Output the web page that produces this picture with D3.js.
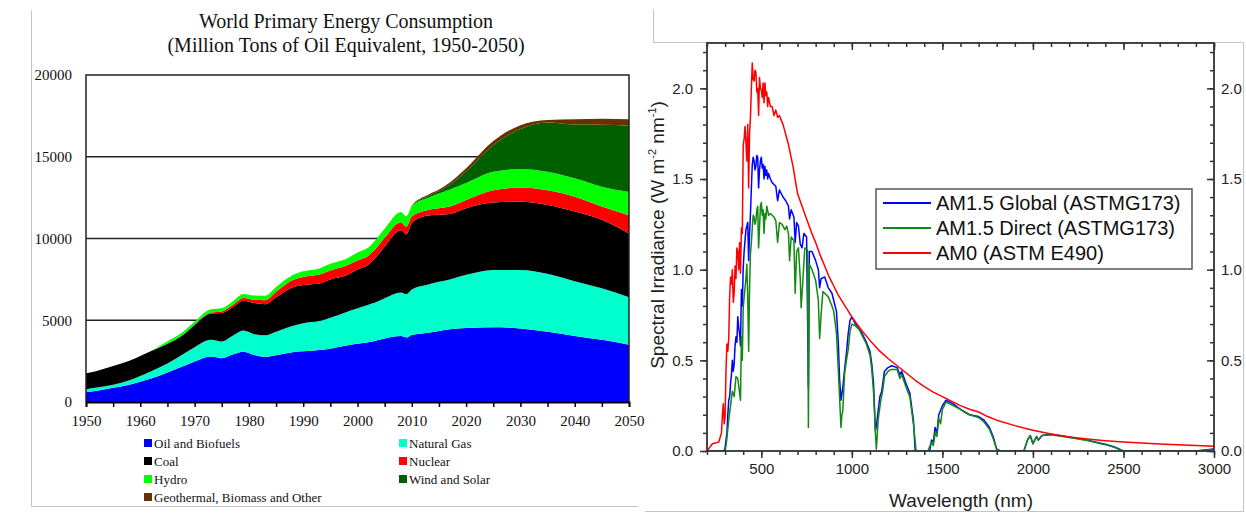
<!DOCTYPE html>
<html>
<head>
<meta charset="utf-8">
<script src="https://cdn.jsdelivr.net/npm/d3@7"></script>
<style>
  body { margin: 0; background: #fff; }
  .serif { font-family: "Liberation Serif", "Times New Roman", serif; }
  .sans { font-family: "Liberation Sans", Arial, sans-serif; }
</style>
</head>
<body>
<svg id="chart" width="1246" height="516"></svg>
<script>
// ---- left panel: world primary energy, Mtoe
const energyYears = [1950, 1952, 1955, 1958, 1960, 1962, 1965, 1968, 1970, 1973, 1975, 1977, 1979, 1981, 1983, 1985, 1988, 1990, 1993, 1995, 1998, 2000, 2002, 2003, 2005, 2008, 2009, 2010, 2013, 2015, 2017, 2020, 2025, 2030, 2035, 2040, 2045, 2050];
const oilBio    = [600, 690, 870, 1060, 1240, 1430, 1800, 2200, 2470, 2780, 2680, 2900, 3080, 2880, 2760, 2860, 3050, 3100, 3180, 3260, 3450, 3560, 3650, 3720, 3880, 4030, 3950, 4100, 4240, 4350, 4450, 4520, 4570, 4500, 4300, 4040, 3800, 3500];
const natGas    = [180, 190, 180, 270, 350, 450, 560, 750, 880, 1020, 1020, 1150, 1290, 1270, 1320, 1440, 1600, 1720, 1770, 1890, 2050, 2170, 2300, 2330, 2470, 2670, 2650, 2780, 2940, 3000, 3050, 3260, 3510, 3580, 3540, 3340, 3150, 2900];
const coal      = [980, 1020, 1150, 1200, 1230, 1240, 1200, 1180, 1360, 1620, 1750, 1750, 1830, 1900, 1900, 2100, 2350, 2330, 2300, 2350, 2250, 2370, 2450, 2650, 3150, 3800, 3650, 4070, 4220, 4100, 4000, 4070, 4120, 4170, 4210, 4270, 4200, 3900];
const nuclear   = [0, 0, 0, 0, 0, 0, 10, 20, 30, 50, 90, 130, 160, 200, 250, 350, 450, 500, 550, 550, 600, 550, 550, 550, 550, 500, 480, 400, 350, 400, 450, 500, 750, 870, 900, 910, 810, 1120];
const hydro     = [0, 0, 0, 0, 0, 0, 140, 180, 180, 210, 200, 220, 250, 270, 270, 280, 300, 350, 370, 400, 410, 500, 500, 530, 550, 620, 620, 620, 750, 900, 1050, 1050, 1130, 1130, 1130, 1120, 1210, 1430];
const windSolar = [0, 0, 0, 0, 0, 0, 0, 0, 0, 0, 0, 0, 0, 0, 0, 0, 0, 0, 0, 0, 0, 0, 0, 0, 0, 0, 0, 20, 100, 150, 300, 700, 1620, 2450, 3020, 3290, 3790, 4050];
const otherRen  = [0, 0, 0, 0, 0, 0, 0, 0, 0, 0, 0, 0, 0, 0, 0, 0, 0, 0, 0, 0, 0, 0, 0, 0, 0, 0, 0, 20, 80, 100, 130, 200, 260, 230, 150, 330, 370, 400];

const energyKeys   = ["Oil and Biofuels", "Natural Gas", "Coal", "Nuclear", "Hydro", "Wind and Solar", "Geothermal, Biomass and Other"];
const energyColors = ["#0000ff", "#00ffcc", "#000000", "#ff0000", "#00ff00", "#006000", "#663300"];
const energySeries = [oilBio, natGas, coal, nuclear, hydro, windSolar, otherRen];
const energyTicksY = [0, 5000, 10000, 15000, 20000];

// ---- right panel: solar spectra, W m-2 nm-1 vs nm
const am15Global = [[200,0],[295,0],[300,0.02],[305,0.06],[310,0.1],[315,0.2],[320,0.28],[325,0.3],[330,0.37],[335,0.42],[340,0.5],[345,0.44],[350,0.48],[355,0.58],[360,0.63],[365,0.6],[370,0.74],[375,0.68],[380,0.65],[385,0.58],[390,0.89],[395,0.8],[400,1.01],[405,1.1],[410,1.16],[415,1.22],[420,1.24],[425,1.26],[430,1.05],[435,1.2],[440,1.31],[445,1.45],[450,1.58],[455,1.62],[460,1.6],[465,1.55],[470,1.57],[475,1.63],[480,1.62],[485,1.45],[490,1.55],[495,1.6],[500,1.62],[505,1.56],[510,1.58],[515,1.5],[520,1.57],[525,1.52],[530,1.55],[535,1.5],[540,1.53],[550,1.5],[560,1.48],[570,1.47],[580,1.46],[590,1.38],[600,1.44],[610,1.42],[620,1.4],[635,1.38],[650,1.35],[656,1.28],[665,1.33],[680,1.29],[687,1.15],[695,1.26],[705,1.24],[715,1.14],[725,1.12],[735,1.2],[750,1.18],[760,0.35],[765,1.1],[780,1.1],[800,1.05],[815,1.0],[822,0.9],[830,0.95],[850,0.96],[870,0.9],[890,0.87],[900,0.83],[915,0.77],[925,0.6],[932,0.4],[940,0.28],[950,0.35],[960,0.45],[970,0.54],[980,0.65],[990,0.72],[1000,0.74],[1020,0.7],[1040,0.68],[1060,0.64],[1080,0.6],[1100,0.55],[1110,0.48],[1120,0.37],[1130,0.11],[1137,0.15],[1145,0.22],[1155,0.3],[1165,0.33],[1180,0.44],[1200,0.46],[1220,0.47],[1250,0.46],[1265,0.42],[1275,0.44],[1300,0.37],[1320,0.32],[1340,0.17],[1350,0],[1430,0],[1440,0.06],[1450,0.05],[1460,0.13],[1470,0.1],[1480,0.2],[1500,0.25],[1520,0.28],[1540,0.27],[1560,0.26],[1600,0.23],[1650,0.2],[1700,0.19],[1730,0.17],[1760,0.13],[1780,0.08],[1800,0.01],[1820,0],[1950,0],[1970,0.06],[1985,0.085],[2000,0.04],[2020,0.08],[2030,0.06],[2050,0.085],[2100,0.092],[2200,0.077],[2300,0.06],[2400,0.037],[2450,0.022],[2500,0],[2900,0],[2950,0.005],[3000,0.011]];
const am15Direct = [[200,0],[300,0],[305,0.03],[310,0.07],[315,0.12],[320,0.17],[330,0.25],[340,0.33],[350,0.3],[360,0.41],[370,0.4],[380,0.32],[385,0.28],[390,0.63],[395,0.5],[400,0.79],[405,0.85],[410,0.9],[415,0.95],[420,1.03],[425,0.85],[430,0.55],[435,0.9],[440,1.09],[445,1.15],[450,1.23],[455,1.3],[460,1.29],[465,1.25],[470,1.27],[475,1.33],[480,1.35],[485,1.12],[490,1.23],[495,1.35],[500,1.37],[505,1.3],[510,1.33],[515,1.2],[520,1.31],[525,1.28],[530,1.35],[540,1.3],[550,1.31],[560,1.3],[570,1.29],[580,1.27],[590,1.15],[600,1.26],[615,1.25],[630,1.22],[640,1.24],[650,1.2],[656,1.05],[665,1.18],[680,1.16],[687,0.87],[695,1.1],[705,1.12],[715,0.95],[720,0.79],[730,0.95],[740,1.12],[755,1.11],[760,0.13],[765,1.03],[780,1.0],[800,0.94],[815,0.83],[822,0.62],[830,0.75],[840,0.88],[870,0.85],[890,0.8],[900,0.77],[915,0.65],[925,0.45],[932,0.3],[940,0.13],[945,0.2],[950,0.22],[960,0.43],[970,0.5],[980,0.56],[990,0.66],[1000,0.7],[1020,0.69],[1040,0.67],[1060,0.63],[1080,0.59],[1100,0.53],[1110,0.45],[1120,0.32],[1130,0.1],[1135,0.01],[1140,0.08],[1145,0.17],[1160,0.28],[1170,0.33],[1180,0.41],[1200,0.44],[1220,0.45],[1250,0.45],[1265,0.4],[1275,0.42],[1300,0.35],[1320,0.3],[1340,0.15],[1355,0],[1420,0],[1440,0.05],[1450,0.03],[1460,0.1],[1470,0.08],[1480,0.18],[1490,0.15],[1500,0.23],[1520,0.27],[1540,0.26],[1560,0.25],[1580,0.24],[1600,0.23],[1620,0.215],[1650,0.2],[1700,0.185],[1730,0.16],[1760,0.12],[1780,0.07],[1800,0.01],[1820,0],[1950,0],[1970,0.06],[1985,0.085],[2000,0.04],[2020,0.08],[2030,0.06],[2050,0.085],[2100,0.09],[2200,0.075],[2300,0.058],[2400,0.035],[2450,0.02],[2500,0],[2900,0],[2950,0.004],[3000,0.01]];
const am0 = [[200,0],[215,0.02],[230,0.04],[250,0.045],[265,0.05],[280,0.1],[285,0.2],[290,0.26],[295,0.15],[300,0.19],[305,0.45],[310,0.59],[315,0.55],[320,0.62],[325,0.85],[330,0.96],[335,0.92],[340,1.0],[345,0.82],[350,0.87],[355,1.02],[360,0.95],[365,1.12],[370,1.1],[375,1.0],[380,1.15],[385,0.98],[390,1.23],[395,1.2],[400,1.69],[405,1.72],[410,1.79],[415,1.7],[420,1.6],[425,1.8],[430,1.45],[435,1.75],[440,1.84],[445,2.0],[450,2.14],[455,2.05],[460,2.04],[465,2.1],[470,2.09],[475,1.98],[480,2.0],[485,1.85],[490,2.06],[495,2.0],[500,1.99],[505,1.95],[510,2.03],[515,1.92],[520,2.03],[525,1.96],[530,1.98],[535,1.9],[540,1.95],[550,1.9],[560,1.9],[570,1.85],[580,1.88],[590,1.84],[600,1.85],[620,1.8],[650,1.69],[675,1.57],[700,1.42],[725,1.35],[750,1.28],[775,1.21],[800,1.15],[825,1.08],[850,1.02],[875,0.96],[900,0.91],[925,0.86],[950,0.82],[975,0.78],[1000,0.74],[1050,0.67],[1100,0.61],[1150,0.555],[1200,0.51],[1250,0.47],[1300,0.43],[1350,0.39],[1400,0.355],[1450,0.325],[1500,0.3],[1550,0.275],[1600,0.25],[1650,0.23],[1700,0.215],[1750,0.19],[1800,0.17],[1900,0.14],[2000,0.114],[2100,0.094],[2200,0.077],[2300,0.066],[2400,0.057],[2500,0.05],[2600,0.044],[2700,0.039],[2800,0.035],[2900,0.03],[3000,0.026]];

const spectraNames  = ["AM1.5 Global (ASTMG173)", "AM1.5 Direct (ASTMG173)", "AM0 (ASTM E490)"];
const spectraColors = ["#0000ff", "#108a10", "#ff0000"];
const spectra = [am15Global, am15Direct, am0];

const svg = d3.select('#chart');
svg.append('rect').attr('width', 1246).attr('height', 516).attr('fill', '#fff');

// panel outlines (light gray)
const frame = svg.append('g').attr('stroke', '#c4c4c4').attr('stroke-width', 1).attr('fill', 'none');
frame.append('path').attr('d', 'M31.5,10V506.5H638');
frame.append('path').attr('d', 'M653.5,9V42.5H1243.5V511.5H645');

// strip the axis defaults so the page fonts apply
function plainAxis(g, size, fill) {
    g.attr('font-family', null).attr('font-size', null);
    g.selectAll('text').attr('font-size', size).attr('fill', fill);
}

// ================= left chart =================
const left = svg.append('g').attr('class', 'serif');
const lx = d3.scaleLinear().domain([1950, 2050]).range([86, 629]);
const ly = d3.scaleLinear().domain([0, 20000]).range([402, 75]);

const rows = energyYears.map((yr, i) => {
    const r = { year: yr };
    energyKeys.forEach((k, j) => r[k] = energySeries[j][i]);
    return r;
});
const stacked = d3.stack().keys(energyKeys)(rows);

// gridlines sit under the areas
left.append('g')
    .selectAll('line')
    .data(energyTicksY.slice(1, -1)).enter().append('line')
    .attr('x1', lx(1950)).attr('x2', lx(2050))
    .attr('y1', d => ly(d)).attr('y2', d => ly(d))
    .attr('stroke', '#222').attr('stroke-width', 1.5);

const area = d3.area()
    .x(d => lx(d.data.year))
    .y0(d => ly(d[0]))
    .y1(d => ly(d[1]))
    .curve(d3.curveMonotoneX);
left.append('g')
    .selectAll('path')
    .data(stacked).enter().append('path')
    .attr('d', area)
    .attr('fill', (d, i) => energyColors[i]);

// box: top, left, right
left.append('path')
    .attr('d', `M${lx(1950)},${ly(0)}V${ly(20000)}H${lx(2050)}V${ly(0)}`)
    .attr('fill', 'none').attr('stroke', '#222').attr('stroke-width', 1.5);

const yAxisL = left.append('g')
    .attr('transform', `translate(${lx(1950)},0)`)
    .call(d3.axisLeft(ly).tickValues(energyTicksY).tickSize(0).tickPadding(14).tickFormat(d3.format('d')));
yAxisL.select('.domain').remove();
plainAxis(yAxisL, 15, '#111');

const xAxisL = left.append('g')
    .attr('transform', `translate(0,${ly(0)})`)
    .call(d3.axisBottom(lx).tickValues(d3.range(1950, 2051, 5)).tickSize(5).tickPadding(8)
        .tickFormat(d => d % 10 === 0 ? d : ''));
xAxisL.select('.domain').attr('stroke', '#000').attr('stroke-width', 1.8);
xAxisL.selectAll('line').attr('stroke', '#000').attr('stroke-width', 1.5);
plainAxis(xAxisL, 15, '#111');

left.append('text')
    .attr('x', 346).attr('y', 28)
    .attr('text-anchor', 'middle').attr('font-size', 20).attr('fill', '#111')
    .text('World Primary Energy Consumption');
left.append('text')
    .attr('x', 346).attr('y', 52)
    .attr('text-anchor', 'middle').attr('font-size', 20).attr('fill', '#111')
    .text('(Million Tons of Oil Equivalent, 1950-2050)');

// legend, two columns, filled row by row
const legL = left.append('g')
    .selectAll('g')
    .data(energyKeys).enter().append('g')
    .attr('transform', (d, i) => `translate(${i % 2 === 0 ? 144 : 399},${443 + Math.floor(i / 2) * 18})`);
legL.append('rect')
    .attr('x', 0).attr('y', -4).attr('width', 8).attr('height', 8)
    .attr('fill', (d, i) => energyColors[i]);
legL.append('text')
    .attr('x', 10).attr('dy', '0.35em')
    .attr('font-size', 13).attr('fill', '#111')
    .text(d => d);

// ================= right chart =================
const right = svg.append('g').attr('class', 'sans');
const sx = d3.scaleLinear().domain([200, 3000]).range([707, 1214]);
const sy = d3.scaleLinear().domain([0, 2.25]).range([451, 43]);

right.append('clipPath').attr('id', 'plotclip')
    .append('rect').attr('x', 707).attr('y', 43).attr('width', 507).attr('height', 408);

const line = d3.line().x(d => sx(d[0])).y(d => sy(d[1]));
right.append('g').attr('clip-path', 'url(#plotclip)')
    .selectAll('path')
    .data(spectra).enter().append('path')
    .attr('d', line)
    .attr('fill', 'none')
    .attr('stroke', (d, i) => spectraColors[i])
    .attr('stroke-width', 1.5)
    .attr('stroke-linejoin', 'round');

const tickCol = '#333';
const majX = d3.range(500, 3001, 500), minX = d3.range(200, 3001, 100);
const majY = d3.range(0, 2.01, 0.5), minY = d3.range(0, 2.25, 0.1);
function styleAxis(g) {
    g.select('.domain').remove();
    g.selectAll('line').attr('stroke', tickCol).attr('stroke-width', 1.5);
    plainAxis(g, 15, '#222');
}
// bottom
right.append('g').attr('transform', 'translate(0,451)')
    .call(d3.axisBottom(sx).tickValues(minX).tickSize(4).tickFormat('')).call(styleAxis);
right.append('g').attr('transform', 'translate(0,451)')
    .call(d3.axisBottom(sx).tickValues(majX).tickSize(7).tickPadding(5).tickFormat(d3.format('d'))).call(styleAxis);
// top (inward)
right.append('g').attr('transform', 'translate(0,43)')
    .call(d3.axisTop(sx).tickValues(minX).tickSize(-4).tickFormat('')).call(styleAxis);
right.append('g').attr('transform', 'translate(0,43)')
    .call(d3.axisTop(sx).tickValues(majX).tickSize(-7).tickFormat('')).call(styleAxis);
// left
right.append('g').attr('transform', 'translate(707,0)')
    .call(d3.axisLeft(sy).tickValues(minY).tickSize(4).tickFormat('')).call(styleAxis);
right.append('g').attr('transform', 'translate(707,0)')
    .call(d3.axisLeft(sy).tickValues(majY).tickSize(7).tickPadding(7).tickFormat(d3.format('.1f'))).call(styleAxis);
// right (inward ticks, labels outside)
right.append('g').attr('transform', 'translate(1214,0)')
    .call(d3.axisRight(sy).tickValues(minY).tickSize(-4).tickFormat('')).call(styleAxis);
right.append('g').attr('transform', 'translate(1214,0)')
    .call(d3.axisRight(sy).tickValues(majY).tickSize(-7).tickPadding(7).tickFormat(d3.format('.1f'))).call(styleAxis);

right.append('rect')
    .attr('x', 707).attr('y', 43).attr('width', 507).attr('height', 408)
    .attr('fill', 'none').attr('stroke', tickCol).attr('stroke-width', 1.8);

// axis titles
right.append('text')
    .attr('x', 961).attr('y', 507)
    .attr('text-anchor', 'middle').attr('font-size', 19).attr('fill', '#222')
    .text('Wavelength (nm)');
const yTitle = right.append('text')
    .attr('transform', 'translate(664,235) rotate(-90)')
    .attr('text-anchor', 'middle').attr('font-size', 19).attr('fill', '#222');
yTitle.append('tspan').text('Spectral Irradiance (W m');
yTitle.append('tspan').attr('font-size', 11).attr('dy', -8).text('-2');
yTitle.append('tspan').attr('dy', 8).text(' nm');
yTitle.append('tspan').attr('font-size', 11).attr('dy', -8).text('-1');
yTitle.append('tspan').attr('dy', 8).text(')');

// legend box
const legR = right.append('g').attr('transform', 'translate(876,189)');
legR.append('rect')
    .attr('width', 316).attr('height', 80)
    .attr('fill', '#fff').attr('stroke', '#555').attr('stroke-width', 1.5);
const legRows = legR.selectAll('g.item')
    .data(spectraNames).enter().append('g')
    .attr('class', 'item')
    .attr('transform', (d, i) => `translate(0,${14 + i * 25})`);
legRows.append('line')
    .attr('x1', 7).attr('x2', 55)
    .attr('stroke', (d, i) => spectraColors[i]).attr('stroke-width', 2);
legRows.append('text')
    .attr('x', 60).attr('dy', '0.36em')
    .attr('font-size', 20).attr('fill', '#111')
    .text(d => d);
</script>
</body>
</html>
